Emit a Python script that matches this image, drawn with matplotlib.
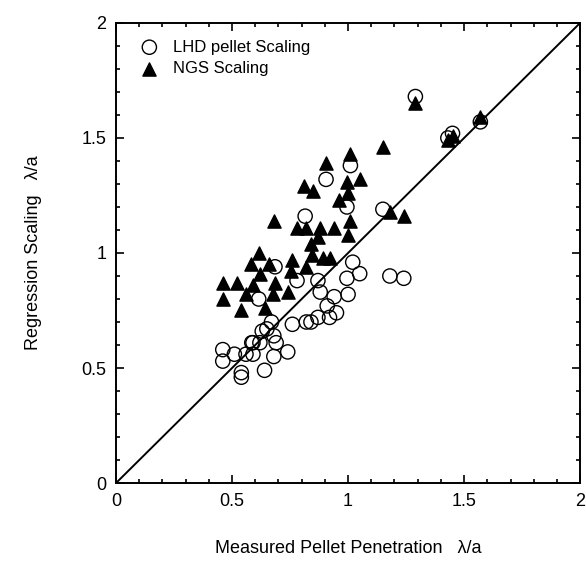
import matplotlib.pyplot as plt
from matplotlib.ticker import MultipleLocator

plt.rcParams['font.family'] = ['Liberation Sans', 'DejaVu Sans']

# LHD pellet scaling (open circles)
lhd_x = [0.46, 0.46, 0.51, 0.56, 0.585, 0.59, 0.54, 0.54, 0.64, 0.69, 0.68, 0.74,
         0.68, 0.63, 0.62, 0.59, 0.67, 0.65, 0.76, 0.82, 0.615, 0.685, 0.78,
         0.87, 0.88, 0.94, 1.0, 0.91, 0.95, 0.92, 0.87, 0.84, 1.02, 1.05, 0.995,
         1.18, 1.24, 0.815, 0.905, 1.01, 0.995, 1.15, 1.29, 1.43, 1.45, 1.57]
lhd_y = [0.58, 0.53, 0.56, 0.56, 0.61, 0.56, 0.48, 0.46, 0.49, 0.61, 0.55, 0.57,
         0.64, 0.66, 0.61, 0.61, 0.70, 0.67, 0.69, 0.70, 0.80, 0.94, 0.88,
         0.88, 0.83, 0.81, 0.82, 0.77, 0.74, 0.72, 0.72, 0.70, 0.96, 0.91, 0.89,
         0.90, 0.89, 1.16, 1.32, 1.38, 1.20, 1.19, 1.68, 1.50, 1.52, 1.57]

# NGS scaling (filled triangles)
ngs_x = [0.46, 0.52, 0.59, 0.685, 0.74, 0.56, 0.675, 0.46, 0.54, 0.64, 0.615,
         0.58, 0.66, 0.62, 0.76, 0.755, 0.82, 0.68, 0.78, 0.82, 0.81, 0.85,
         0.905, 1.01, 1.15, 0.995, 1.05, 1.0, 0.96, 1.18, 1.24, 1.01, 0.88,
         0.94, 0.84, 0.845, 0.87, 1.0, 0.89, 0.92, 1.29, 1.43, 1.45, 1.57]
ngs_y = [0.87, 0.87, 0.86, 0.87, 0.83, 0.82, 0.82, 0.80, 0.75, 0.76, 1.00,
         0.95, 0.95, 0.91, 0.97, 0.92, 0.94, 1.14, 1.11, 1.11, 1.29, 1.27,
         1.39, 1.43, 1.46, 1.31, 1.32, 1.26, 1.23, 1.18, 1.16, 1.14, 1.11,
         1.11, 1.04, 0.99, 1.07, 1.08, 0.98, 0.98, 1.65, 1.49, 1.51, 1.59]

ticks = [0, 0.5, 1, 1.5, 2]
tick_labels = ['0', '0.5', '1', '1.5', '2']

fig = plt.figure(figsize=(5.86, 5.73), dpi=100)
ax = fig.add_axes([0.198, 0.157, 0.792, 0.803])

ax.plot([0, 2], [0, 2], color='black', lw=1.4, zorder=1)
ax.scatter(ngs_x, ngs_y, marker='^', s=90, color='black', zorder=2,
           label='NGS Scaling')
ax.scatter(lhd_x, lhd_y, marker='o', s=105, facecolors='none',
           edgecolors='black', linewidths=1.0, zorder=3,
           label='LHD pellet Scaling')

ax.set_xlim(0, 2)
ax.set_ylim(0, 2)
ax.set_xticks(ticks, tick_labels)
ax.set_yticks(ticks, tick_labels)
ax.xaxis.set_minor_locator(MultipleLocator(0.1))
ax.yaxis.set_minor_locator(MultipleLocator(0.1))
ax.tick_params(which='both', direction='in', top=True, right=True,
               labelsize=13, width=1.2)
ax.tick_params(which='major', length=6, pad=7)
ax.tick_params(which='minor', length=3)
for s in ax.spines.values():
    s.set_linewidth(1.4)

ax.set_xlabel('Measured Pellet Penetration   λ/a', fontsize=13, labelpad=22)
ax.set_ylabel('Regression Scaling   λ/a', fontsize=13, labelpad=28)

h, l = ax.get_legend_handles_labels()
ax.legend(h[::-1], l[::-1], loc='upper left', frameon=False, fontsize=12,
          handletextpad=0.4, borderaxespad=0.6, labelspacing=0.4)

plt.savefig('out.png', dpi=100)
